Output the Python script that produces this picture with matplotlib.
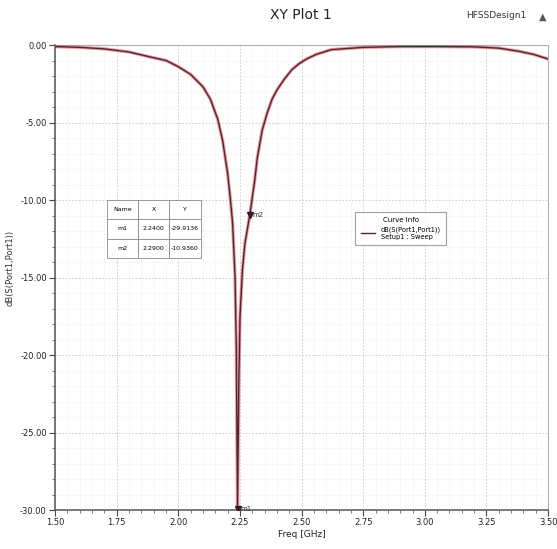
import matplotlib

matplotlib.use("Agg")

import matplotlib.pyplot as plt
from matplotlib.ticker import MultipleLocator, FormatStrFormatter

# S11 sweep of the port, dB vs GHz
freq_ghz = [1.50, 1.60, 1.70, 1.80, 1.88, 1.95, 2.00, 2.05, 2.10, 2.13, 2.16,
            2.18, 2.20, 2.21, 2.22, 2.23, 2.235, 2.24, 2.245, 2.25, 2.26, 2.27,
            2.29, 2.31, 2.32, 2.34, 2.36, 2.38, 2.40, 2.43, 2.46, 2.49, 2.52,
            2.56, 2.62, 2.75, 2.90, 3.05, 3.20, 3.30, 3.38, 3.44, 3.50]
s11_db = [-0.10, -0.15, -0.25, -0.45, -0.75, -1.0, -1.4, -1.9, -2.7, -3.5, -4.8,
          -6.2, -8.3, -9.8, -11.5, -15.0, -19.5, -29.91, -22.0, -17.5, -14.5, -12.8,
          -10.94, -8.7, -7.3, -5.5, -4.4, -3.5, -2.9, -2.2, -1.6, -1.2, -0.9,
          -0.6, -0.3, -0.15, -0.1, -0.1, -0.12, -0.2, -0.4, -0.6, -0.9]

marker_names = ["m1", "m2"]
marker_x = [2.2400, 2.2900]
marker_y = [-29.9136, -10.9360]

x_ticks = [1.50, 1.75, 2.00, 2.25, 2.50, 2.75, 3.00, 3.25, 3.50]
y_ticks = [0.0, -5.0, -10.0, -15.0, -20.0, -25.0, -30.0]

fig = plt.figure(figsize=(5.57, 5.49), dpi=100)
ax = fig.add_axes([0.099, 0.071, 0.885, 0.847])

ax.plot(freq_ghz, s11_db, color="#e8404f", lw=2.4, alpha=0.55, zorder=3)
ax.plot(freq_ghz, s11_db, color="#4a2a32", lw=1.0, zorder=4,
        label="dB(S(Port1,Port1))\nSetup1 : Sweep")

for name, mx, my in zip(marker_names, marker_x, marker_y):
    ax.plot(mx, my, marker="v", ms=4, color="#3a1a22", zorder=5)
    ax.text(mx + 0.012, my, name, fontsize=5, va="center", color="#333333", zorder=6)

ax.set_xlim(1.5, 3.5)
ax.set_ylim(-30, 0)
ax.xaxis.set_minor_locator(MultipleLocator(0.05))
ax.yaxis.set_minor_locator(MultipleLocator(1))
ax.set_xticks(x_ticks)
ax.set_yticks(y_ticks)
ax.xaxis.set_major_formatter(FormatStrFormatter("%.2f"))
ax.yaxis.set_major_formatter(FormatStrFormatter("%.2f"))
ax.tick_params(axis="both", labelsize=6, colors="#444444", labelcolor="#222222",
               length=4, width=0.8, pad=2)
ax.tick_params(which="minor", length=2.5, colors="#666666")

ax.grid(which="major", color="#c8c8c8", lw=0.6, ls=(0, (2, 2)))
ax.grid(which="minor", color="#e2e2e2", lw=0.5, ls=(0, (1, 2)))
for side in ("top", "right"):
    ax.spines[side].set_color("#b0b0b0")
for side in ("bottom", "left"):
    ax.spines[side].set_color("#555555")
    ax.spines[side].set_linewidth(1.1)

ax.set_xlabel("Freq [GHz]", fontsize=6.5, labelpad=2, color="#222222")
ax.set_ylabel("dB(S(Port1,Port1))", fontsize=6, color="#333333")
ax.yaxis.set_label_coords(-0.082, 0.52)

fig.text(0.54, 0.972, "XY Plot 1", ha="center", va="center", fontsize=10, color="#222222")
fig.text(0.945, 0.972, "HFSSDesign1", ha="right", va="center", fontsize=6.5, color="#333333")
fig.text(0.975, 0.970, "\u25b2", ha="center", va="center", fontsize=7, color="#555555")

# marker readout table
cells = [[n, f"{x:.4f}", f"{y:.4f}"] for n, x, y in zip(marker_names, marker_x, marker_y)]
tbl = ax.table(cellText=cells, colLabels=["Name", "X", "Y"],
               bbox=[0.105, 0.542, 0.19, 0.125], cellLoc="center", zorder=7)
tbl.auto_set_font_size(False)
tbl.set_fontsize(4.5)
for cell in tbl.get_celld().values():
    cell.set_edgecolor("#8a8a8a")
    cell.set_linewidth(0.6)
    cell.set_facecolor("white")

leg = ax.legend(loc="upper left", bbox_to_anchor=(0.602, 0.649), title="Curve Info",
                fontsize=4.8, title_fontsize=5, frameon=True, fancybox=False,
                edgecolor="#8a8a8a", handlelength=2.2, borderpad=0.8)
leg.get_frame().set_linewidth(0.8)
leg.set_zorder(7)

fig.savefig("out.png", dpi=100)
